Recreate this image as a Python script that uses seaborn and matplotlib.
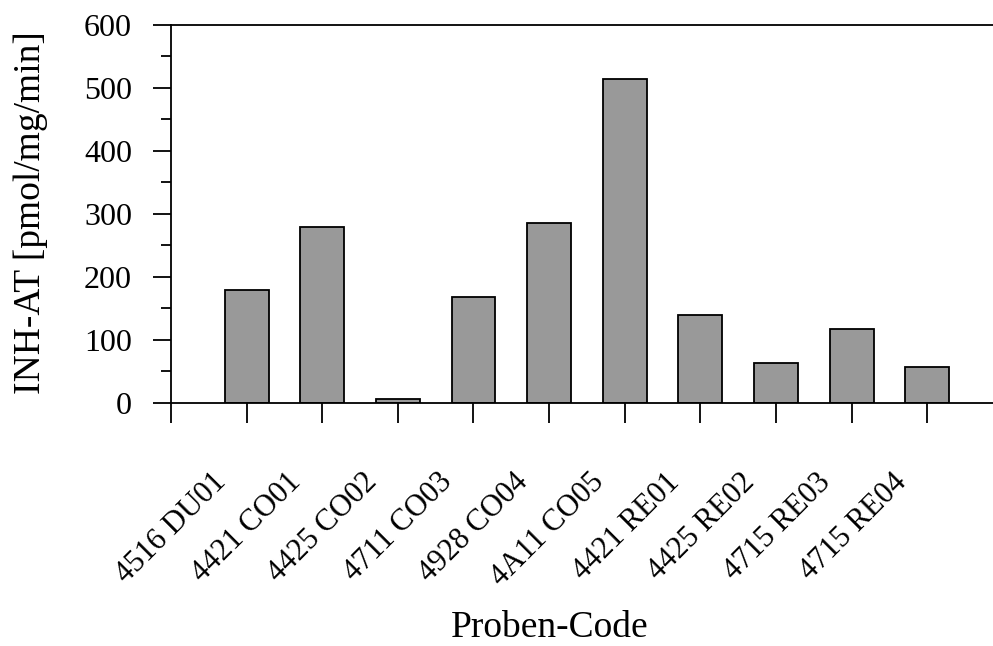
import matplotlib
matplotlib.use("Agg")
import matplotlib.pyplot as plt
import matplotlib.transforms as mtransforms
from matplotlib.ticker import MultipleLocator
import seaborn as sns
import pandas as pd

# Sample codes and measured INH-AT activity
proben = ["4516 DU01", "4421 CO01", "4425 CO02", "4711 CO03", "4928 CO04",
          "4A11 CO05", "4421 RE01", "4425 RE02", "4715 RE03", "4715 RE04"]
inh_at = [180, 279, 6, 168, 285, 514, 139, 63, 117, 57]

sns.set_style("ticks")
plt.rcParams["font.family"] = ["Liberation Serif", "DejaVu Serif"]
plt.rcParams["axes.linewidth"] = 1.3
plt.rcParams["text.color"] = "black"
plt.rcParams["xtick.color"] = "black"
plt.rcParams["ytick.color"] = "black"
plt.rcParams["axes.edgecolor"] = "black"
plt.rcParams["axes.labelcolor"] = "black"

df = pd.DataFrame({"Probe": proben, "Wert": inh_at})

fig = plt.figure(figsize=(9.93, 6.46), dpi=100)
ax = fig.add_axes([0.1722, 0.3762, 0.8278, 0.5851])

sns.barplot(data=df, x="Probe", y="Wert", color="#999999", saturation=1,
            edgecolor="black", linewidth=1.3, width=0.58, ax=ax)

ax.set_xlim(-1, 9.87)
ax.set_ylim(0, 600)

# y axis: major ticks every 100, minor every 50, pointing outward
ax.yaxis.set_major_locator(MultipleLocator(100))
ax.yaxis.set_minor_locator(MultipleLocator(50))
ax.tick_params(axis="y", which="major", direction="out", length=13, width=1.3,
               pad=15, labelsize=23, colors="black")
ax.tick_params(axis="y", which="minor", direction="out", length=7, width=1.3,
               colors="black")

# x axis: one tick at the spine plus one per bar
ax.set_xticks(range(-1, len(proben)))
ax.set_xticklabels([""] + proben)
ax.tick_params(axis="x", which="major", direction="out", length=14.5, width=1.3,
               pad=32, labelsize=22, colors="black")
shift = mtransforms.ScaledTranslation(-15 / 100, 0, fig.dpi_scale_trans)
for lab in ax.get_xticklabels():
    lab.set_rotation(45)
    lab.set_ha("right")
    lab.set_va("top")
    lab.set_transform(lab.get_transform() + shift)

ax.spines["right"].set_visible(False)
for side in ("left", "top", "bottom"):
    ax.spines[side].set_visible(True)
    ax.spines[side].set_linewidth(1.3)
    ax.spines[side].set_color("black")

ax.set_xlabel("")
ax.set_ylabel("")
fig.text(550 / 993, 1 - 637 / 646, "Proben-Code", fontsize=27,
         ha="center", va="baseline", color="black")
fig.text(31 / 993, 1 - 213 / 646, "INH-AT [pmol/mg/min]", fontsize=27,
         rotation=90, ha="center", va="center", color="black")

fig.savefig("out.png", dpi=100)
